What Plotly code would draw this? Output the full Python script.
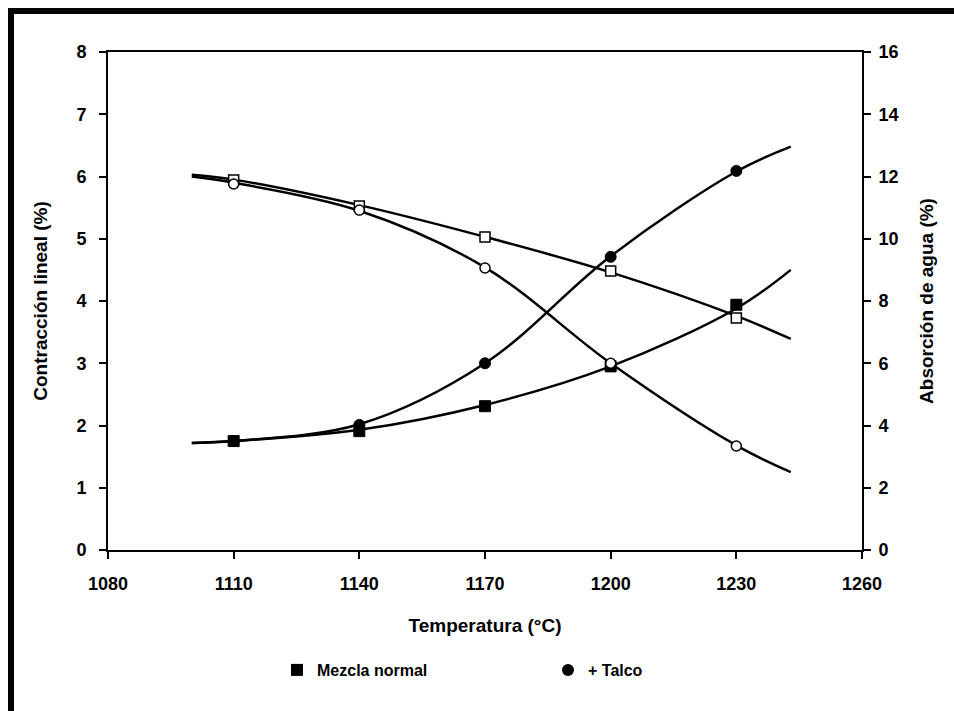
import plotly.graph_objects as go

# Data
temps = [1110, 1140, 1170, 1200, 1230]
contr_normal = [1.75, 1.91, 2.31, 2.95, 3.94]
contr_talco = [1.75, 2.01, 3.00, 4.71, 6.09]
abs_normal = [11.89, 11.05, 10.06, 8.96, 7.45]
abs_talco = [11.76, 10.92, 9.06, 6.00, 3.34]

# Trend curves
curve_x = [1100, 1110, 1140, 1170, 1200, 1230, 1243]
curve_contr_normal = [1.72, 1.75, 1.93, 2.33, 2.95, 3.88, 4.50]
curve_contr_talco = [1.72, 1.75, 2.02, 3.00, 4.72, 6.08, 6.48]
curve_abs_normal = [12.06, 11.90, 11.08, 10.06, 8.92, 7.52, 6.78]
curve_abs_talco = [12.00, 11.80, 10.90, 9.08, 6.00, 3.36, 2.50]

x_ticks = [1080, 1110, 1140, 1170, 1200, 1230, 1260]
y1_ticks = [0, 1, 2, 3, 4, 5, 6, 7, 8]
y2_ticks = [0, 2, 4, 6, 8, 10, 12, 14, 16]

FONT = "Liberation Sans"
line_style = dict(color="black", width=2.5, shape="spline", smoothing=1.0)

fig = go.Figure()

# Curves
fig.add_trace(go.Scatter(x=curve_x, y=curve_contr_normal, mode="lines", line=line_style, showlegend=False, hoverinfo="skip"))
fig.add_trace(go.Scatter(x=curve_x, y=curve_contr_talco, mode="lines", line=line_style, showlegend=False, hoverinfo="skip"))
fig.add_trace(go.Scatter(x=curve_x, y=curve_abs_normal, mode="lines", line=line_style, showlegend=False, yaxis="y2", hoverinfo="skip"))
fig.add_trace(go.Scatter(x=curve_x, y=curve_abs_talco, mode="lines", line=line_style, showlegend=False, yaxis="y2", hoverinfo="skip"))

# Markers
fig.add_trace(go.Scatter(x=temps, y=contr_talco, mode="markers", showlegend=False,
                         marker=dict(symbol="circle", size=11, color="black", line=dict(color="black", width=1))))
fig.add_trace(go.Scatter(x=temps, y=contr_normal, mode="markers", showlegend=False,
                         marker=dict(symbol="square", size=11, color="black", line=dict(color="black", width=1))))
fig.add_trace(go.Scatter(x=temps, y=abs_normal, mode="markers", showlegend=False, yaxis="y2",
                         marker=dict(symbol="square", size=10, color="white", line=dict(color="black", width=1.5))))
fig.add_trace(go.Scatter(x=temps, y=abs_talco, mode="markers", showlegend=False, yaxis="y2",
                         marker=dict(symbol="circle", size=10, color="white", line=dict(color="black", width=1.5))))

# Legend entries
fig.add_trace(go.Scatter(x=[None], y=[None], mode="markers", name="Mezcla normal",
                         marker=dict(symbol="square", size=11, color="black")))
fig.add_trace(go.Scatter(x=[None], y=[None], mode="markers", name="+ Talco",
                         marker=dict(symbol="circle", size=11, color="black")))

L, R, T, B = 108, 92, 52, 161
W, H = 954, 711
pw, ph = W - L - R, H - T - B

def px(x):
    return (x - L) / pw

def py(y):
    return (H - B - y) / ph

tickfont = dict(family=FONT, size=18, color="black")
titlefont = dict(family=FONT, size=19, color="black")

fig.update_layout(
    width=W, height=H,
    margin=dict(l=L, r=R, t=T, b=B),
    paper_bgcolor="white", plot_bgcolor="white",
    font=dict(family=FONT, color="black"),
    xaxis=dict(
        range=[1080, 1260], tickvals=x_ticks, ticktext=[f"<b>{v}</b>" for v in x_ticks],
        showgrid=False, zeroline=False, showline=True, linecolor="black", linewidth=2,
        mirror=True, ticks="outside", ticklen=7, tickwidth=1.5, tickcolor="black",
        tickfont=tickfont, ticklabelstandoff=9,
        title=dict(text="<b>Temperatura (°C)</b>", font=titlefont, standoff=26),
    ),
    yaxis=dict(
        range=[0, 8], tickvals=y1_ticks, ticktext=[f"<b>{v}</b>" for v in y1_ticks],
        showgrid=False, zeroline=False, showline=True, linecolor="black", linewidth=2,
        ticks="outside", ticklen=7, tickwidth=1.5, tickcolor="black",
        tickfont=tickfont, ticklabelstandoff=9,
        title=dict(text="<b>Contracción lineal (%)</b>", font=titlefont, standoff=24),
    ),
    yaxis2=dict(
        range=[0, 16], tickvals=y2_ticks, ticktext=[f"<b>{v}</b>" for v in y2_ticks],
        overlaying="y", side="right",
        showgrid=False, zeroline=False, showline=True, linecolor="black", linewidth=2,
        ticks="outside", ticklen=7, tickwidth=1.5, tickcolor="black",
        tickfont=tickfont, ticklabelstandoff=4,
        title=dict(text="<b>Absorción de agua (%)</b>", font=titlefont, standoff=22),
    ),
    legend=dict(
        orientation="h", x=px(277), y=py(670), xanchor="left", yanchor="middle",
        entrywidth=226, entrywidthmode="pixels",
        font=dict(family=FONT, size=16, color="black"),
        itemsizing="constant", bgcolor="rgba(0,0,0,0)",
    ),
    shapes=[
        dict(type="rect", xref="paper", yref="paper", x0=px(8), x1=px(954), y0=py(14), y1=py(8),
             fillcolor="black", line=dict(width=0), layer="above"),
        dict(type="rect", xref="paper", yref="paper", x0=px(8), x1=px(14), y0=py(711), y1=py(8),
             fillcolor="black", line=dict(width=0), layer="above"),
    ],
)

# Bold legend text
for tr in fig.data:
    if tr.name:
        tr.name = f"<b>{tr.name}</b>"

fig.write_html("out.html")
